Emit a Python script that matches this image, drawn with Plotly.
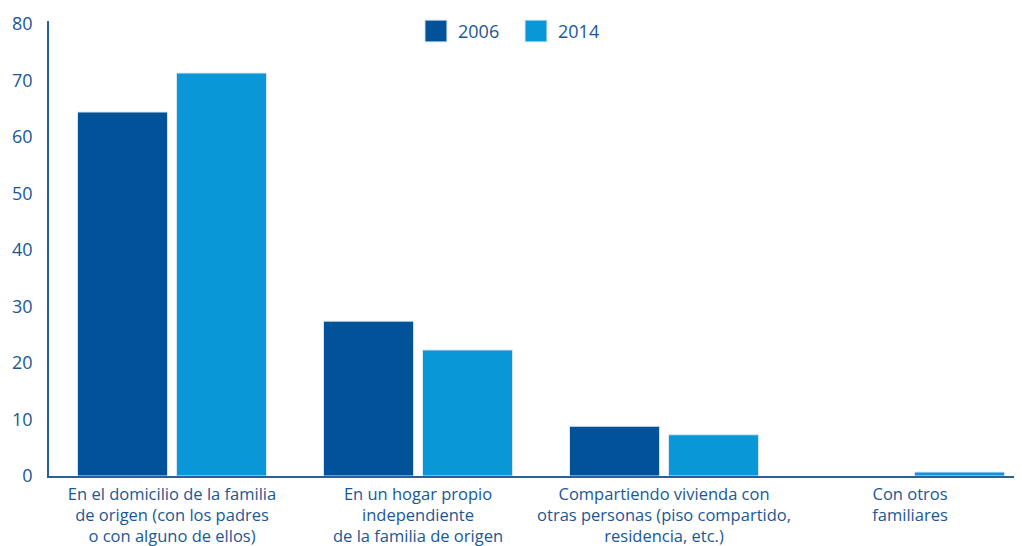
import plotly.graph_objects as go

categories = [
    "En el domicilio de la familia<br>de origen (con los padres<br>o con alguno de ellos)",
    "En un hogar propio<br>independiente<br>de la familia de origen",
    "Compartiendo vivienda con<br>otras personas (piso compartido,<br>residencia, etc.)",
    "Con otros<br>familiares",
]
values_2006 = [64.4, 27.4, 8.8, 0.0]
values_2014 = [71.3, 22.3, 7.3, 0.7]
series_names = ["2006", "2014"]
y_ticks = [0, 10, 20, 30, 40, 50, 60, 70, 80]

c2006 = "#02529a"
c2014 = "#0997d8"
colors = [c2006, c2014]
text_col = "#1a5796"
axis_col = "#2a5f9e"
edge = "#dbe8f4"

fig = go.Figure()
for name, vals, col in zip(series_names, [values_2006, values_2014], colors):
    fig.add_trace(go.Bar(x=categories, y=vals, name=name,
                         marker=dict(color=col,
                                     line=dict(color=edge,
                                               width=[1 if v > 0 else 0 for v in vals]))))

# custom legend with large square swatches
legend_x = [0.3864, 0.4892]
for i, name in enumerate(series_names):
    fig.add_shape(type="rect", xref="paper", yref="paper",
                  x0=legend_x[i], x1=legend_x[i] + 0.0226, y0=0.954, y1=1.002,
                  fillcolor=colors[i], line=dict(color=edge, width=1))
    fig.add_annotation(xref="paper", yref="paper", x=legend_x[i] + 0.0318, y=0.978,
                       xanchor="left", yanchor="middle", text=name, showarrow=False,
                       font=dict(size=18, color=text_col))

fig.update_layout(
    width=1014, height=538,
    margin=dict(l=41, r=0, t=13, b=70),
    paper_bgcolor="white", plot_bgcolor="white",
    barmode="group", bargap=0.195, bargroupgap=0.09,
    font=dict(family="Open Sans", color=text_col, size=16),
    showlegend=False,
    xaxis=dict(range=[-0.5, 3.455], showline=True, linecolor=axis_col, linewidth=1.5,
               ticks="", tickfont=dict(size=16.5, color=text_col), showgrid=False,
               ticklabelstandoff=2, automargin=False),
    yaxis=dict(range=[0, 80.5], tickvals=y_ticks, showline=True, linecolor=axis_col,
               linewidth=1.5, showgrid=False, zeroline=False, ticks="",
               ticklabelstandoff=11, tickfont=dict(size=18, color=text_col),
               automargin=False),
)

fig.write_html("out.html")
